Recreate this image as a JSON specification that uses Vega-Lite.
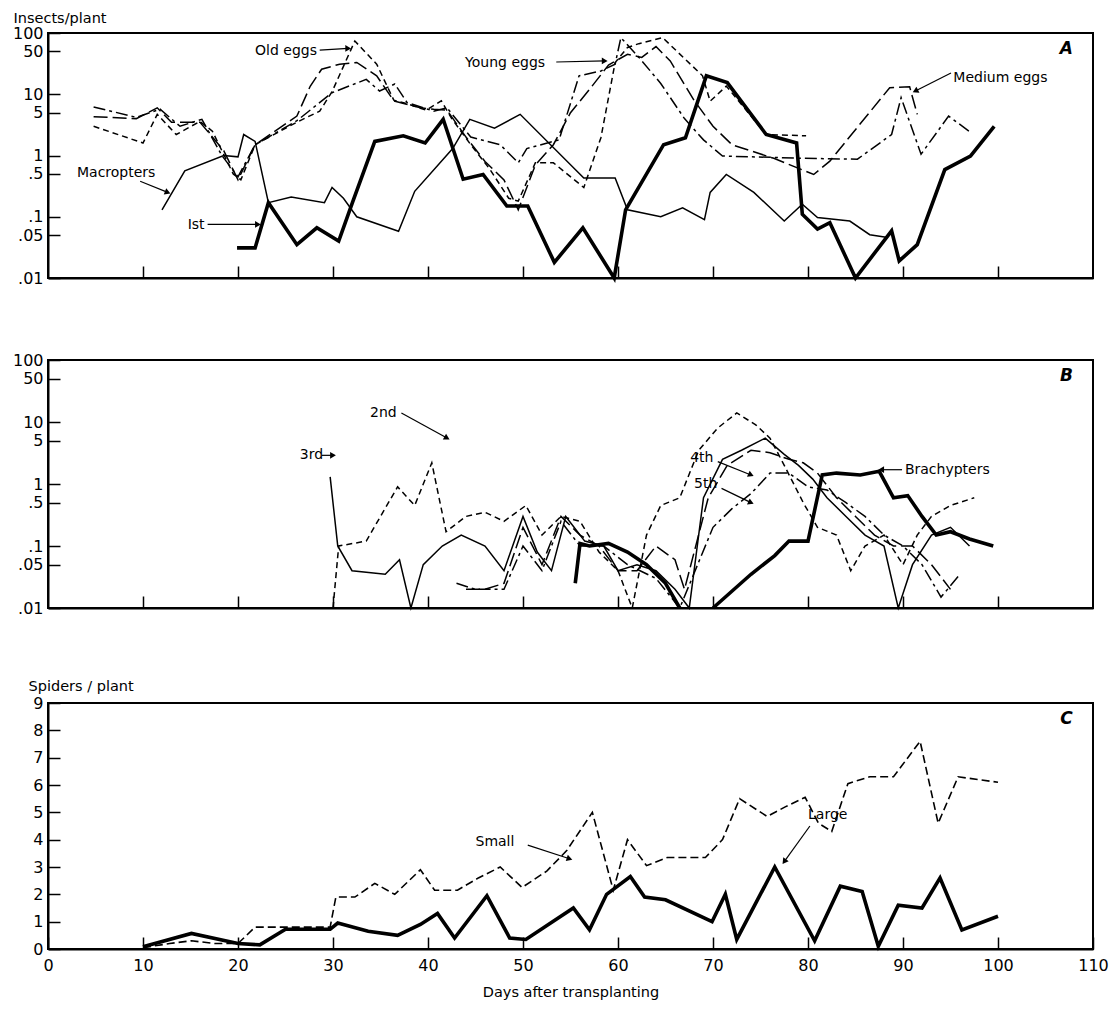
{
  "$schema": "https://vega.github.io/schema/vega-lite/v6.json",
  "padding": {"left": 11, "top": 9, "right": 5, "bottom": 5},
  "background": "white",
  "config": {
    "font": "DejaVu Sans",
    "view": {"stroke": "black", "strokeWidth": 2},
    "axis": {
      "grid": false, "domainColor": "black", "domainWidth": 2, "tickColor": "black", "tickWidth": 1.5,
      "tickSize": -12, "labelColor": "black", "titleColor": "black", "labelFont": "DejaVu Sans",
      "titleFont": "DejaVu Sans", "labelFontSize": 16, "titleFontSize": 14.5, "titleFontWeight": "normal",
      "labelPadding": 17, "labelOverlap": false, "labelFlush": false, "tickCount": 30
    },
    "text": {"font": "DejaVu Sans", "fontSize": 14, "color": "black", "align": "left", "baseline": "middle"},
    "point": {"filled": true, "color": "black", "opacity": 1, "shape": "triangle-right", "size": 45}
  },
  "datasets": {
    "A": [
      {"s":"Macropters","day":12.0,"v":0.13},{"s":"Macropters","day":14.4,"v":0.56},{"s":"Macropters","day":18.5,"v":1.0},{"s":"Macropters","day":20.0,"v":0.95},{"s":"Macropters","day":20.6,"v":2.2},{"s":"Macropters","day":21.8,"v":1.7},{"s":"Macropters","day":23.2,"v":0.17},{"s":"Macropters","day":25.6,"v":0.21},{"s":"Macropters","day":29.1,"v":0.17},{"s":"Macropters","day":29.9,"v":0.3},{"s":"Macropters","day":31.1,"v":0.2},{"s":"Macropters","day":32.5,"v":0.1},{"s":"Macropters","day":36.9,"v":0.058},{"s":"Macropters","day":38.6,"v":0.26},{"s":"Macropters","day":42.6,"v":1.3},{"s":"Macropters","day":44.4,"v":3.9},{"s":"Macropters","day":47.0,"v":2.8},{"s":"Macropters","day":49.7,"v":4.7},{"s":"Macropters","day":56.4,"v":0.43},{"s":"Macropters","day":59.7,"v":0.43},{"s":"Macropters","day":61.0,"v":0.13},{"s":"Macropters","day":64.5,"v":0.1},{"s":"Macropters","day":66.8,"v":0.14},{"s":"Macropters","day":69.1,"v":0.09},{"s":"Macropters","day":69.7,"v":0.25},{"s":"Macropters","day":71.4,"v":0.49},{"s":"Macropters","day":74.3,"v":0.25},{"s":"Macropters","day":77.5,"v":0.085},{"s":"Macropters","day":79.4,"v":0.16},{"s":"Macropters","day":81.0,"v":0.097},{"s":"Macropters","day":84.4,"v":0.085},{"s":"Macropters","day":86.5,"v":0.051},{"s":"Macropters","day":88.4,"v":0.046},
      {"s":"1st","day":19.9,"v":0.031},{"s":"1st","day":21.8,"v":0.031},{"s":"1st","day":23.2,"v":0.17},{"s":"1st","day":26.2,"v":0.035},{"s":"1st","day":28.3,"v":0.066},{"s":"1st","day":30.6,"v":0.04},{"s":"1st","day":32.1,"v":0.18},{"s":"1st","day":34.4,"v":1.7},{"s":"1st","day":37.4,"v":2.1},{"s":"1st","day":39.7,"v":1.6},{"s":"1st","day":41.6,"v":3.9},{"s":"1st","day":43.7,"v":0.41},{"s":"1st","day":45.8,"v":0.49},{"s":"1st","day":48.3,"v":0.15},{"s":"1st","day":50.5,"v":0.15},{"s":"1st","day":53.3,"v":0.018},{"s":"1st","day":56.3,"v":0.066},{"s":"1st","day":59.6,"v":0.01},{"s":"1st","day":60.8,"v":0.13},{"s":"1st","day":64.8,"v":1.5},{"s":"1st","day":67.1,"v":1.95},{"s":"1st","day":69.3,"v":20},{"s":"1st","day":71.5,"v":15.5},{"s":"1st","day":75.6,"v":2.2},{"s":"1st","day":78.8,"v":1.6},{"s":"1st","day":79.4,"v":0.11},{"s":"1st","day":81.0,"v":0.063},{"s":"1st","day":82.3,"v":0.08},{"s":"1st","day":85.0,"v":0.01},{"s":"1st","day":88.8,"v":0.059},{"s":"1st","day":89.6,"v":0.019},{"s":"1st","day":91.5,"v":0.035},{"s":"1st","day":94.4,"v":0.59},{"s":"1st","day":97.1,"v":0.98},{"s":"1st","day":99.6,"v":3.0},
      {"s":"Old eggs","day":4.8,"v":3.0},{"s":"Old eggs","day":10.0,"v":1.6},{"s":"Old eggs","day":11.5,"v":4.7},{"s":"Old eggs","day":13.5,"v":2.2},{"s":"Old eggs","day":16.0,"v":3.6},{"s":"Old eggs","day":17.3,"v":2.5},{"s":"Old eggs","day":19.5,"v":0.5},{"s":"Old eggs","day":20.3,"v":0.4},{"s":"Old eggs","day":21.8,"v":1.5},{"s":"Old eggs","day":26.2,"v":3.5},{"s":"Old eggs","day":28.6,"v":5.3},{"s":"Old eggs","day":29.9,"v":11},{"s":"Old eggs","day":32.3,"v":74},{"s":"Old eggs","day":34.6,"v":31},{"s":"Old eggs","day":36.4,"v":8},{"s":"Old eggs","day":37.8,"v":7},{"s":"Old eggs","day":39.8,"v":5.5},{"s":"Old eggs","day":41.4,"v":7.8},{"s":"Old eggs","day":42.5,"v":4.0},{"s":"Old eggs","day":44.5,"v":1.5},{"s":"Old eggs","day":46.5,"v":0.6},{"s":"Old eggs","day":48.5,"v":0.2},{"s":"Old eggs","day":49.5,"v":0.18},{"s":"Old eggs","day":51.3,"v":0.76},{"s":"Old eggs","day":53.2,"v":0.76},{"s":"Old eggs","day":56.4,"v":0.3},{"s":"Old eggs","day":58.2,"v":1.95},{"s":"Old eggs","day":59.7,"v":33},{"s":"Old eggs","day":61.0,"v":58},{"s":"Old eggs","day":62.2,"v":67},{"s":"Old eggs","day":64.7,"v":84},{"s":"Old eggs","day":68.9,"v":20},{"s":"Old eggs","day":69.7,"v":7.7},{"s":"Old eggs","day":71.4,"v":13.6},{"s":"Old eggs","day":75.6,"v":2.2},{"s":"Old eggs","day":79.8,"v":2.1},
      {"s":"Young eggs","day":4.8,"v":6.2},{"s":"Young eggs","day":9.3,"v":4.2},{"s":"Young eggs","day":11.8,"v":5.7},{"s":"Young eggs","day":13.9,"v":3.0},{"s":"Young eggs","day":16.2,"v":3.9},{"s":"Young eggs","day":18.3,"v":1.0},{"s":"Young eggs","day":20.0,"v":0.45},{"s":"Young eggs","day":21.8,"v":1.5},{"s":"Young eggs","day":26.2,"v":3.7},{"s":"Young eggs","day":29.9,"v":10.6},{"s":"Young eggs","day":33.5,"v":17.5},{"s":"Young eggs","day":34.9,"v":11.3},{"s":"Young eggs","day":36.5,"v":14.7},{"s":"Young eggs","day":37.8,"v":7.3},{"s":"Young eggs","day":40.6,"v":5.3},{"s":"Young eggs","day":42.0,"v":6.0},{"s":"Young eggs","day":44.5,"v":2.0},{"s":"Young eggs","day":47.6,"v":1.5},{"s":"Young eggs","day":49.5,"v":0.76},{"s":"Young eggs","day":50.4,"v":1.3},{"s":"Young eggs","day":53.8,"v":1.8},{"s":"Young eggs","day":55.9,"v":20},{"s":"Young eggs","day":58.2,"v":24},{"s":"Young eggs","day":59.7,"v":31},{"s":"Young eggs","day":60.3,"v":84},{"s":"Young eggs","day":62.2,"v":40},{"s":"Young eggs","day":64.5,"v":15},{"s":"Young eggs","day":67.0,"v":4},{"s":"Young eggs","day":69.0,"v":1.8},{"s":"Young eggs","day":71.0,"v":0.98},{"s":"Young eggs","day":76.4,"v":0.93},{"s":"Young eggs","day":79.4,"v":0.9},{"s":"Young eggs","day":85.2,"v":0.87},{"s":"Young eggs","day":88.8,"v":2.2},{"s":"Young eggs","day":89.8,"v":8.8},{"s":"Young eggs","day":91.9,"v":1.05},{"s":"Young eggs","day":94.8,"v":4.4},{"s":"Young eggs","day":97.1,"v":2.4},
      {"s":"Medium eggs","day":4.8,"v":4.3},{"s":"Medium eggs","day":9.3,"v":4.0},{"s":"Medium eggs","day":11.5,"v":6.0},{"s":"Medium eggs","day":13.0,"v":3.5},{"s":"Medium eggs","day":16.0,"v":3.5},{"s":"Medium eggs","day":18.5,"v":1.2},{"s":"Medium eggs","day":20.0,"v":0.4},{"s":"Medium eggs","day":21.8,"v":1.5},{"s":"Medium eggs","day":26.2,"v":4.4},{"s":"Medium eggs","day":27.6,"v":13.5},{"s":"Medium eggs","day":28.8,"v":25.6},{"s":"Medium eggs","day":30.7,"v":31},{"s":"Medium eggs","day":32.5,"v":33},{"s":"Medium eggs","day":34.6,"v":20},{"s":"Medium eggs","day":36.4,"v":7.8},{"s":"Medium eggs","day":39.2,"v":6.0},{"s":"Medium eggs","day":40.6,"v":5.7},{"s":"Medium eggs","day":42.0,"v":5.5},{"s":"Medium eggs","day":44.0,"v":2.0},{"s":"Medium eggs","day":46.0,"v":0.8},{"s":"Medium eggs","day":48.0,"v":0.4},{"s":"Medium eggs","day":49.5,"v":0.13},{"s":"Medium eggs","day":51.3,"v":0.7},{"s":"Medium eggs","day":53.2,"v":1.5},{"s":"Medium eggs","day":55.0,"v":5},{"s":"Medium eggs","day":57.0,"v":12},{"s":"Medium eggs","day":59.0,"v":30},{"s":"Medium eggs","day":61.0,"v":45},{"s":"Medium eggs","day":62.5,"v":40},{"s":"Medium eggs","day":64.0,"v":60},{"s":"Medium eggs","day":65.5,"v":35},{"s":"Medium eggs","day":68.0,"v":8},{"s":"Medium eggs","day":70.0,"v":3},{"s":"Medium eggs","day":72.0,"v":1.5},{"s":"Medium eggs","day":76.4,"v":0.9},{"s":"Medium eggs","day":80.6,"v":0.49},{"s":"Medium eggs","day":82.3,"v":0.81},{"s":"Medium eggs","day":88.6,"v":12.8},{"s":"Medium eggs","day":90.7,"v":13.2},{"s":"Medium eggs","day":91.5,"v":4.7}
    ],
    "B": [
      {"s":"2nd","day":30.0,"v":0.01},{"s":"2nd","day":30.6,"v":0.1},{"s":"2nd","day":33.5,"v":0.12},{"s":"2nd","day":36.8,"v":0.9},{"s":"2nd","day":38.6,"v":0.45},{"s":"2nd","day":40.4,"v":2.2},{"s":"2nd","day":41.9,"v":0.17},{"s":"2nd","day":44.0,"v":0.3},{"s":"2nd","day":46.0,"v":0.35},{"s":"2nd","day":48.0,"v":0.25},{"s":"2nd","day":50.3,"v":0.45},{"s":"2nd","day":52.0,"v":0.15},{"s":"2nd","day":54.0,"v":0.3},{"s":"2nd","day":56.0,"v":0.25},{"s":"2nd","day":58.0,"v":0.08},{"s":"2nd","day":60.0,"v":0.04},{"s":"2nd","day":61.5,"v":0.01},{"s":"2nd","day":63.0,"v":0.15},{"s":"2nd","day":64.5,"v":0.45},{"s":"2nd","day":66.5,"v":0.6},{"s":"2nd","day":68.5,"v":3.5},{"s":"2nd","day":70.5,"v":8},{"s":"2nd","day":72.5,"v":14},{"s":"2nd","day":74.5,"v":9},{"s":"2nd","day":76.0,"v":5.5},{"s":"2nd","day":77.5,"v":2},{"s":"2nd","day":79.5,"v":0.5},{"s":"2nd","day":81.0,"v":0.2},{"s":"2nd","day":83.0,"v":0.15},{"s":"2nd","day":84.5,"v":0.04},{"s":"2nd","day":86.0,"v":0.1},{"s":"2nd","day":88.0,"v":0.15},{"s":"2nd","day":90.0,"v":0.05},{"s":"2nd","day":91.5,"v":0.15},{"s":"2nd","day":93.0,"v":0.3},{"s":"2nd","day":95.0,"v":0.45},{"s":"2nd","day":97.5,"v":0.6},
      {"s":"3rd","day":29.7,"v":1.3},{"s":"3rd","day":30.5,"v":0.1},{"s":"3rd","day":32.0,"v":0.04},{"s":"3rd","day":35.5,"v":0.035},{"s":"3rd","day":37.0,"v":0.06},{"s":"3rd","day":38.2,"v":0.01},{"s":"3rd","day":39.5,"v":0.05},{"s":"3rd","day":41.5,"v":0.1},{"s":"3rd","day":43.5,"v":0.15},{"s":"3rd","day":46.0,"v":0.1},{"s":"3rd","day":48.0,"v":0.04},{"s":"3rd","day":50.0,"v":0.3},{"s":"3rd","day":51.5,"v":0.08},{"s":"3rd","day":53.0,"v":0.04},{"s":"3rd","day":54.5,"v":0.3},{"s":"3rd","day":56.5,"v":0.12},{"s":"3rd","day":58.5,"v":0.1},{"s":"3rd","day":60.0,"v":0.04},{"s":"3rd","day":62.0,"v":0.05},{"s":"3rd","day":64.0,"v":0.04},{"s":"3rd","day":66.0,"v":0.02},{"s":"3rd","day":67.5,"v":0.01},{"s":"3rd","day":69.0,"v":0.6},{"s":"3rd","day":71.0,"v":2.5},{"s":"3rd","day":73.0,"v":3.5},{"s":"3rd","day":75.5,"v":5.5},{"s":"3rd","day":77.5,"v":3},{"s":"3rd","day":79.0,"v":2},{"s":"3rd","day":80.5,"v":1.2},{"s":"3rd","day":82.0,"v":0.6},{"s":"3rd","day":84.0,"v":0.3},{"s":"3rd","day":86.0,"v":0.15},{"s":"3rd","day":88.0,"v":0.1},{"s":"3rd","day":89.5,"v":0.01},{"s":"3rd","day":91.0,"v":0.05},{"s":"3rd","day":93.0,"v":0.15},{"s":"3rd","day":95.0,"v":0.2},{"s":"3rd","day":97.0,"v":0.1},
      {"s":"4th","day":44.0,"v":0.02},{"s":"4th","day":46.0,"v":0.02},{"s":"4th","day":48.0,"v":0.025},{"s":"4th","day":50.0,"v":0.2},{"s":"4th","day":52.0,"v":0.05},{"s":"4th","day":54.0,"v":0.3},{"s":"4th","day":56.0,"v":0.15},{"s":"4th","day":58.0,"v":0.1},{"s":"4th","day":60.0,"v":0.04},{"s":"4th","day":62.0,"v":0.04},{"s":"4th","day":64.0,"v":0.1},{"s":"4th","day":66.0,"v":0.06},{"s":"4th","day":67.0,"v":0.02},{"s":"4th","day":69.5,"v":0.6},{"s":"4th","day":71.5,"v":2},{"s":"4th","day":74.0,"v":3.5},{"s":"4th","day":76.0,"v":3.2},{"s":"4th","day":78.0,"v":2.5},{"s":"4th","day":79.5,"v":2.2},{"s":"4th","day":81.0,"v":1.5},{"s":"4th","day":83.0,"v":0.6},{"s":"4th","day":85.0,"v":0.3},{"s":"4th","day":87.0,"v":0.15},{"s":"4th","day":89.0,"v":0.1},{"s":"4th","day":91.0,"v":0.1},{"s":"4th","day":93.0,"v":0.05},{"s":"4th","day":95.0,"v":0.02},
      {"s":"5th","day":43.0,"v":0.025},{"s":"5th","day":45.0,"v":0.02},{"s":"5th","day":48.0,"v":0.02},{"s":"5th","day":50.0,"v":0.1},{"s":"5th","day":52.0,"v":0.04},{"s":"5th","day":54.0,"v":0.25},{"s":"5th","day":56.0,"v":0.1},{"s":"5th","day":58.5,"v":0.1},{"s":"5th","day":61.0,"v":0.05},{"s":"5th","day":64.0,"v":0.03},{"s":"5th","day":66.5,"v":0.01},{"s":"5th","day":70.0,"v":0.2},{"s":"5th","day":72.0,"v":0.4},{"s":"5th","day":74.0,"v":0.7},{"s":"5th","day":76.0,"v":1.5},{"s":"5th","day":78.0,"v":1.5},{"s":"5th","day":80.0,"v":0.9},{"s":"5th","day":82.0,"v":0.8},{"s":"5th","day":84.0,"v":0.5},{"s":"5th","day":86.0,"v":0.3},{"s":"5th","day":88.0,"v":0.15},{"s":"5th","day":90.0,"v":0.1},{"s":"5th","day":92.0,"v":0.05},{"s":"5th","day":94.0,"v":0.015},{"s":"5th","day":96.0,"v":0.035},
      {"s":"Brachypters","seg":1,"day":55.5,"v":0.025},{"s":"Brachypters","seg":1,"day":56.0,"v":0.11},{"s":"Brachypters","seg":1,"day":57.0,"v":0.1},{"s":"Brachypters","seg":1,"day":59.0,"v":0.11},{"s":"Brachypters","seg":1,"day":61.0,"v":0.08},{"s":"Brachypters","seg":1,"day":63.0,"v":0.05},{"s":"Brachypters","seg":1,"day":65.0,"v":0.025},{"s":"Brachypters","seg":1,"day":66.5,"v":0.01},
      {"s":"Brachypters","seg":2,"day":70.0,"v":0.01},{"s":"Brachypters","seg":2,"day":74.0,"v":0.035},{"s":"Brachypters","seg":2,"day":76.5,"v":0.07},{"s":"Brachypters","seg":2,"day":78.0,"v":0.12},{"s":"Brachypters","seg":2,"day":80.0,"v":0.12},{"s":"Brachypters","seg":2,"day":81.5,"v":1.4},{"s":"Brachypters","seg":2,"day":83.0,"v":1.5},{"s":"Brachypters","seg":2,"day":85.5,"v":1.4},{"s":"Brachypters","seg":2,"day":87.5,"v":1.6},{"s":"Brachypters","seg":2,"day":89.0,"v":0.6},{"s":"Brachypters","seg":2,"day":90.5,"v":0.65},{"s":"Brachypters","seg":2,"day":92.0,"v":0.3},{"s":"Brachypters","seg":2,"day":93.5,"v":0.15},{"s":"Brachypters","seg":2,"day":95.0,"v":0.17},{"s":"Brachypters","seg":2,"day":97.0,"v":0.13},{"s":"Brachypters","seg":2,"day":99.5,"v":0.1}
    ],
    "C": [
      {"s":"Large","day":10.0,"v":0.08},{"s":"Large","day":15.1,"v":0.57},{"s":"Large","day":20.0,"v":0.2},{"s":"Large","day":22.3,"v":0.15},{"s":"Large","day":25.0,"v":0.72},{"s":"Large","day":29.7,"v":0.72},{"s":"Large","day":30.5,"v":0.95},{"s":"Large","day":33.7,"v":0.65},{"s":"Large","day":36.8,"v":0.5},{"s":"Large","day":39.2,"v":0.9},{"s":"Large","day":41.0,"v":1.3},{"s":"Large","day":42.8,"v":0.4},{"s":"Large","day":46.2,"v":1.95},{"s":"Large","day":48.6,"v":0.4},{"s":"Large","day":50.3,"v":0.35},{"s":"Large","day":55.3,"v":1.5},{"s":"Large","day":57.0,"v":0.7},{"s":"Large","day":58.8,"v":2.0},{"s":"Large","day":61.3,"v":2.65},{"s":"Large","day":62.8,"v":1.9},{"s":"Large","day":65.0,"v":1.8},{"s":"Large","day":69.9,"v":1.0},{"s":"Large","day":71.3,"v":2.0},{"s":"Large","day":72.5,"v":0.35},{"s":"Large","day":76.5,"v":3.0},{"s":"Large","day":80.7,"v":0.3},{"s":"Large","day":83.4,"v":2.3},{"s":"Large","day":85.7,"v":2.1},{"s":"Large","day":87.4,"v":0.1},{"s":"Large","day":89.5,"v":1.6},{"s":"Large","day":92.0,"v":1.5},{"s":"Large","day":93.9,"v":2.6},{"s":"Large","day":96.2,"v":0.7},{"s":"Large","day":100.0,"v":1.2},
      {"s":"Small","day":10.0,"v":0.05},{"s":"Small","day":12.8,"v":0.2},{"s":"Small","day":15.1,"v":0.3},{"s":"Small","day":17.6,"v":0.2},{"s":"Small","day":20.0,"v":0.2},{"s":"Small","day":21.8,"v":0.8},{"s":"Small","day":25.0,"v":0.8},{"s":"Small","day":29.7,"v":0.8},{"s":"Small","day":30.3,"v":1.9},{"s":"Small","day":32.3,"v":1.9},{"s":"Small","day":34.4,"v":2.4},{"s":"Small","day":36.5,"v":2.0},{"s":"Small","day":39.2,"v":2.9},{"s":"Small","day":40.7,"v":2.15},{"s":"Small","day":43.1,"v":2.15},{"s":"Small","day":45.3,"v":2.6},{"s":"Small","day":47.6,"v":3.0},{"s":"Small","day":49.9,"v":2.25},{"s":"Small","day":52.5,"v":2.85},{"s":"Small","day":54.6,"v":3.6},{"s":"Small","day":57.3,"v":5.0},{"s":"Small","day":59.5,"v":2.15},{"s":"Small","day":61.0,"v":4.0},{"s":"Small","day":63.0,"v":3.05},{"s":"Small","day":65.2,"v":3.35},{"s":"Small","day":69.2,"v":3.35},{"s":"Small","day":71.0,"v":4.0},{"s":"Small","day":72.8,"v":5.5},{"s":"Small","day":75.7,"v":4.85},{"s":"Small","day":77.6,"v":5.2},{"s":"Small","day":79.7,"v":5.55},{"s":"Small","day":81.1,"v":4.6},{"s":"Small","day":82.5,"v":4.3},{"s":"Small","day":84.2,"v":6.05},{"s":"Small","day":86.5,"v":6.3},{"s":"Small","day":89.0,"v":6.3},{"s":"Small","day":91.8,"v":7.6},{"s":"Small","day":93.7,"v":4.6},{"s":"Small","day":95.8,"v":6.3},{"s":"Small","day":100.0,"v":6.1}
    ],
    "notesA": [
      {"t":"Old eggs","day":21.8,"v":50.8},{"t":"Young eggs","day":43.9,"v":32.4},{"t":"Medium eggs","day":95.3,"v":18.4},{"t":"Macropters","day":3.05,"v":0.52},{"t":"Ist","day":14.7,"v":0.073}
    ],
    "arrowsA": [
      {"t":"Old eggs","day":28.6,"v":52.7,"day2":31.6,"v2":56},{"t":"Young eggs","day":53.5,"v":33.6,"day2":58.6,"v2":35},{"t":"Medium eggs","day":95.05,"v":22.2,"day2":91.3,"v2":11.3},{"t":"Macropters","day":9.7,"v":0.38,"day2":12.6,"v2":0.25},{"t":"Ist","day":16.8,"v":0.075,"day2":22.1,"v2":0.075}
    ],
    "notesB": [
      {"t":"2nd","day":33.9,"v":14},{"t":"3rd","day":26.5,"v":2.9},{"t":"4th","day":67.6,"v":2.6},{"t":"5th","day":68.0,"v":1.0},{"t":"Brachypters","day":90.2,"v":1.7}
    ],
    "arrowsB": [
      {"t":"2nd","day":37.2,"v":14,"day2":42.0,"v2":5.5},{"t":"3rd","day":28.8,"v":2.9,"day2":30.0,"v2":2.9},{"t":"4th","day":70.5,"v":2.3,"day2":74.0,"v2":1.4},{"t":"5th","day":70.9,"v":0.85,"day2":74.0,"v2":0.5},{"t":"Brachypters","day":89.9,"v":1.7,"day2":87.7,"v2":1.7}
    ],
    "notesC": [
      {"t":"Small","day":45.0,"v":3.9},{"t":"Large","day":80.0,"v":4.9}
    ],
    "arrowsC": [
      {"t":"Small","day":50.5,"v":3.8,"day2":54.9,"v2":3.3},{"t":"Large","day":80.2,"v":4.5,"day2":77.5,"v2":3.2}
    ],
    "letters": [
      {"t":"A","p":"A","day":107.2,"v":54.8},{"t":"B","p":"B","day":107.2,"v":55},{"t":"C","p":"C","day":107.2,"v":8.41}
    ]
  },
  "vconcat": [
    {
      "spacing": 64,
      "vconcat": [
        {
          "width": 1045, "height": 245,
          "layer": [
            {
              "data": {"name": "A"},
              "transform": [{"filter": "datum.s == 'Macropters'"}],
              "mark": {"type": "line", "color": "black", "strokeWidth": 1.5},
              "encoding": {
                "x": {"field": "day", "type": "quantitative", "scale": {"domain": [0, 110], "nice": false, "zero": false},
                      "axis": {"values": [10,20,30,40,50,60,70,80,90,100], "labels": false, "title": null}},
                "y": {"field": "v", "type": "quantitative", "scale": {"type": "log", "domain": [0.01, 100], "nice": false},
                      "axis": {"values": [0.01,0.05,0.1,0.5,1,5,10,50,100], "labelExpr": "datum.value >= 1 ? format(datum.value, 'd') : replace(format(datum.value, '.2~f'), '0.', '.')",
                               "title": "Insects/plant", "titleAngle": 0, "titleAlign": "left", "titleBaseline": "alphabetic", "titleX": -35, "titleY": -11}}
              }
            },
            {
              "data": {"name": "A"},
              "transform": [{"filter": "datum.s == 'Old eggs'"}],
              "mark": {"type": "line", "color": "black", "strokeWidth": 1.5, "strokeDash": [6, 4]},
              "encoding": {"x": {"field": "day", "type": "quantitative"}, "y": {"field": "v", "type": "quantitative"}}
            },
            {
              "data": {"name": "A"},
              "transform": [{"filter": "datum.s == 'Young eggs'"}],
              "mark": {"type": "line", "color": "black", "strokeWidth": 1.5, "strokeDash": [12, 4, 3, 4]},
              "encoding": {"x": {"field": "day", "type": "quantitative"}, "y": {"field": "v", "type": "quantitative"}}
            },
            {
              "data": {"name": "A"},
              "transform": [{"filter": "datum.s == 'Medium eggs'"}],
              "mark": {"type": "line", "color": "black", "strokeWidth": 1.5, "strokeDash": [14, 5]},
              "encoding": {"x": {"field": "day", "type": "quantitative"}, "y": {"field": "v", "type": "quantitative"}}
            },
            {
              "data": {"name": "A"},
              "transform": [{"filter": "datum.s == '1st'"}],
              "mark": {"type": "line", "color": "black", "strokeWidth": 3.6},
              "encoding": {"x": {"field": "day", "type": "quantitative"}, "y": {"field": "v", "type": "quantitative"}}
            },
            {
              "data": {"name": "arrowsA"},
              "mark": {"type": "rule", "color": "black", "strokeWidth": 1.2},
              "encoding": {"x": {"field": "day", "type": "quantitative"}, "y": {"field": "v", "type": "quantitative"},
                           "x2": {"field": "day2"}, "y2": {"field": "v2"}}
            },
            {
              "data": {"name": "arrowsA"},
              "transform": [{"filter": "datum.t == 'Old eggs' || datum.t == 'Young eggs' || datum.t == 'Ist'"}],
              "mark": {"type": "point", "angle": 0},
              "encoding": {"x": {"field": "day2", "type": "quantitative"}, "y": {"field": "v2", "type": "quantitative"}}
            },
            {
              "data": {"name": "arrowsA"},
              "transform": [{"filter": "datum.t == 'Medium eggs'"}],
              "mark": {"type": "point", "angle": 153},
              "encoding": {"x": {"field": "day2", "type": "quantitative"}, "y": {"field": "v2", "type": "quantitative"}}
            },
            {
              "data": {"name": "arrowsA"},
              "transform": [{"filter": "datum.t == 'Macropters'"}],
              "mark": {"type": "point", "angle": 22},
              "encoding": {"x": {"field": "day2", "type": "quantitative"}, "y": {"field": "v2", "type": "quantitative"}}
            },
            {
              "data": {"name": "notesA"},
              "mark": {"type": "text"},
              "encoding": {"x": {"field": "day", "type": "quantitative"}, "y": {"field": "v", "type": "quantitative"}, "text": {"field": "t"}}
            },
            {
              "data": {"name": "letters"},
              "transform": [{"filter": "datum.p == 'A'"}],
              "mark": {"type": "text", "fontSize": 17, "fontWeight": "bold", "fontStyle": "italic", "align": "center"},
              "encoding": {"x": {"field": "day", "type": "quantitative"}, "y": {"field": "v", "type": "quantitative"}, "text": {"field": "t"}}
            }
          ]
        },
        {
          "width": 1045, "height": 248,
          "layer": [
            {
              "data": {"name": "B"},
              "transform": [{"filter": "datum.s == '3rd'"}],
              "mark": {"type": "line", "color": "black", "strokeWidth": 1.5},
              "encoding": {
                "x": {"field": "day", "type": "quantitative", "scale": {"domain": [0, 110], "nice": false, "zero": false},
                      "axis": {"values": [10,20,30,40,50,60,70,80,90,100], "labels": false, "title": null}},
                "y": {"field": "v", "type": "quantitative", "scale": {"type": "log", "domain": [0.01, 100], "nice": false},
                      "axis": {"values": [0.01,0.05,0.1,0.5,1,5,10,50,100], "labelExpr": "datum.value >= 1 ? format(datum.value, 'd') : replace(format(datum.value, '.2~f'), '0.', '.')", "title": null}}
              }
            },
            {
              "data": {"name": "B"},
              "transform": [{"filter": "datum.s == '2nd'"}],
              "mark": {"type": "line", "color": "black", "strokeWidth": 1.5, "strokeDash": [6, 4]},
              "encoding": {"x": {"field": "day", "type": "quantitative"}, "y": {"field": "v", "type": "quantitative"}}
            },
            {
              "data": {"name": "B"},
              "transform": [{"filter": "datum.s == '4th'"}],
              "mark": {"type": "line", "color": "black", "strokeWidth": 1.5, "strokeDash": [14, 5]},
              "encoding": {"x": {"field": "day", "type": "quantitative"}, "y": {"field": "v", "type": "quantitative"}}
            },
            {
              "data": {"name": "B"},
              "transform": [{"filter": "datum.s == '5th'"}],
              "mark": {"type": "line", "color": "black", "strokeWidth": 1.5, "strokeDash": [12, 4, 3, 4]},
              "encoding": {"x": {"field": "day", "type": "quantitative"}, "y": {"field": "v", "type": "quantitative"}}
            },
            {
              "data": {"name": "B"},
              "transform": [{"filter": "datum.s == 'Brachypters'"}],
              "mark": {"type": "line", "color": "black", "strokeWidth": 3.6},
              "encoding": {"x": {"field": "day", "type": "quantitative"}, "y": {"field": "v", "type": "quantitative"}, "detail": {"field": "seg"}}
            },
            {
              "data": {"name": "arrowsB"},
              "mark": {"type": "rule", "color": "black", "strokeWidth": 1.2},
              "encoding": {"x": {"field": "day", "type": "quantitative"}, "y": {"field": "v", "type": "quantitative"},
                           "x2": {"field": "day2"}, "y2": {"field": "v2"}}
            },
            {
              "data": {"name": "arrowsB"},
              "transform": [{"filter": "datum.t == '3rd'"}],
              "mark": {"type": "point", "angle": 0},
              "encoding": {"x": {"field": "day2", "type": "quantitative"}, "y": {"field": "v2", "type": "quantitative"}}
            },
            {
              "data": {"name": "arrowsB"},
              "transform": [{"filter": "datum.t == '2nd'"}],
              "mark": {"type": "point", "angle": 29},
              "encoding": {"x": {"field": "day2", "type": "quantitative"}, "y": {"field": "v2", "type": "quantitative"}}
            },
            {
              "data": {"name": "arrowsB"},
              "transform": [{"filter": "datum.t == '4th' || datum.t == '5th'"}],
              "mark": {"type": "point", "angle": 24},
              "encoding": {"x": {"field": "day2", "type": "quantitative"}, "y": {"field": "v2", "type": "quantitative"}}
            },
            {
              "data": {"name": "arrowsB"},
              "transform": [{"filter": "datum.t == 'Brachypters'"}],
              "mark": {"type": "point", "angle": 180},
              "encoding": {"x": {"field": "day2", "type": "quantitative"}, "y": {"field": "v2", "type": "quantitative"}}
            },
            {
              "data": {"name": "notesB"},
              "mark": {"type": "text"},
              "encoding": {"x": {"field": "day", "type": "quantitative"}, "y": {"field": "v", "type": "quantitative"}, "text": {"field": "t"}}
            },
            {
              "data": {"name": "letters"},
              "transform": [{"filter": "datum.p == 'B'"}],
              "mark": {"type": "text", "fontSize": 17, "fontWeight": "bold", "fontStyle": "italic", "align": "center"},
              "encoding": {"x": {"field": "day", "type": "quantitative"}, "y": {"field": "v", "type": "quantitative"}, "text": {"field": "t"}}
            }
          ]
        }
      ]
    },
    {
      "width": 1045, "height": 246,
      "layer": [
        {
          "data": {"name": "C"},
          "transform": [{"filter": "datum.s == 'Small'"}],
          "mark": {"type": "line", "color": "black", "strokeWidth": 1.6, "strokeDash": [8, 4]},
          "encoding": {
            "x": {"field": "day", "type": "quantitative", "scale": {"domain": [0, 110], "nice": false, "zero": false},
                  "axis": {"values": [0,10,20,30,40,50,60,70,80,90,100,110], "labelPadding": 20,
                           "title": "Days after transplanting", "titlePadding": 12}},
            "y": {"field": "v", "type": "quantitative", "scale": {"domain": [0, 9], "nice": false},
                  "axis": {"values": [0,1,2,3,4,5,6,7,8,9], "tickCount": 30, "format": "d",
                           "title": "Spiders / plant", "titleAngle": 0, "titleAlign": "left", "titleBaseline": "alphabetic", "titleX": -20, "titleY": -13}}
          }
        },
        {
          "data": {"name": "C"},
          "transform": [{"filter": "datum.s == 'Large'"}],
          "mark": {"type": "line", "color": "black", "strokeWidth": 3.6},
          "encoding": {"x": {"field": "day", "type": "quantitative"}, "y": {"field": "v", "type": "quantitative"}}
        },
        {
          "data": {"name": "arrowsC"},
          "mark": {"type": "rule", "color": "black", "strokeWidth": 1.2},
          "encoding": {"x": {"field": "day", "type": "quantitative"}, "y": {"field": "v", "type": "quantitative"},
                       "x2": {"field": "day2"}, "y2": {"field": "v2"}}
        },
        {
          "data": {"name": "arrowsC"},
          "transform": [{"filter": "datum.t == 'Small'"}],
          "mark": {"type": "point", "angle": 18},
          "encoding": {"x": {"field": "day2", "type": "quantitative"}, "y": {"field": "v2", "type": "quantitative"}}
        },
        {
          "data": {"name": "arrowsC"},
          "transform": [{"filter": "datum.t == 'Large'"}],
          "mark": {"type": "point", "angle": 126},
          "encoding": {"x": {"field": "day2", "type": "quantitative"}, "y": {"field": "v2", "type": "quantitative"}}
        },
        {
          "data": {"name": "notesC"},
          "mark": {"type": "text"},
          "encoding": {"x": {"field": "day", "type": "quantitative"}, "y": {"field": "v", "type": "quantitative"}, "text": {"field": "t"}}
        },
        {
          "data": {"name": "letters"},
          "transform": [{"filter": "datum.p == 'C'"}],
          "mark": {"type": "text", "fontSize": 17, "fontWeight": "bold", "fontStyle": "italic", "align": "center"},
          "encoding": {"x": {"field": "day", "type": "quantitative"}, "y": {"field": "v", "type": "quantitative"}, "text": {"field": "t"}}
        }
      ]
    }
  ],
  "spacing": 60
}
